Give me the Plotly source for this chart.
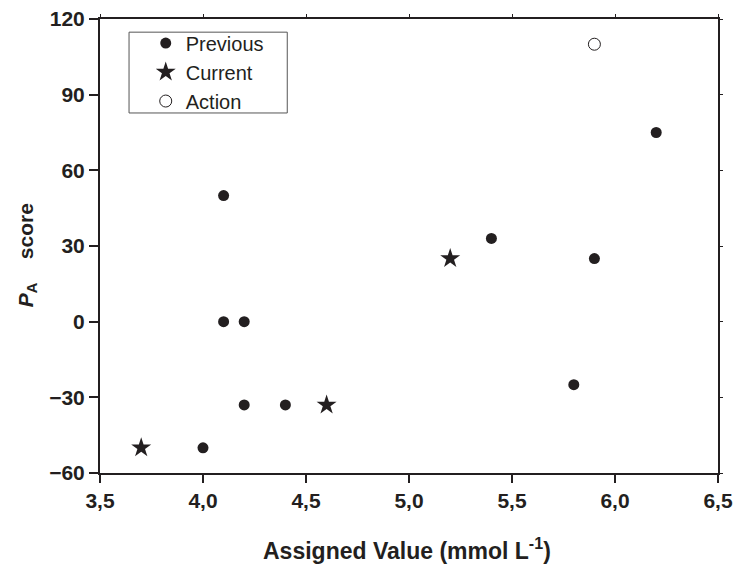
import plotly.graph_objects as go

# ---- data ----
prev_x = [4.0, 4.1, 4.1, 4.2, 4.2, 4.4, 5.4, 5.8, 5.9, 6.2]
prev_y = [-50, 0, 50, 0, -33, -33, 33, -25, 25, 75]
curr_x = [3.7, 4.6, 5.2]
curr_y = [-50, -33, 25]
act_x = [5.9]
act_y = [110]
x_ticks = [3.5, 4.0, 4.5, 5.0, 5.5, 6.0, 6.5]
y_ticks = [-60, -30, 0, 30, 60, 90, 120]

INK = "#231f20"
FONT = "Liberation Sans"

fig = go.Figure()
fig.add_trace(go.Scatter(x=prev_x, y=prev_y, mode="markers", name="Previous",
                         marker=dict(symbol="circle", size=11, color=INK)))
fig.add_trace(go.Scatter(x=curr_x, y=curr_y, mode="markers", name="Current",
                         marker=dict(symbol="star", size=15, color=INK)))
fig.add_trace(go.Scatter(x=act_x, y=act_y, mode="markers", name="Action",
                         marker=dict(symbol="circle-open", size=12, color=INK,
                                     line=dict(width=1, color=INK))))
# invisible trace for mirrored small ticks
fig.add_trace(go.Scatter(x=[None], y=[None], xaxis="x2", yaxis="y2",
                         showlegend=False, hoverinfo="skip"))

axis_common = dict(showgrid=False, zeroline=False, showline=True,
                   linecolor=INK, linewidth=2, ticks="outside",
                   tickcolor=INK, tickwidth=2, automargin=False,
                   tickfont=dict(family=FONT, size=21, color=INK, weight="bold"))

fig.update_layout(
    width=736, height=564,
    margin=dict(l=100, r=18, t=19, b=91, autoexpand=False),
    paper_bgcolor="white", plot_bgcolor="white",
    separators=",.",
    xaxis=dict(range=[3.5, 6.5], tickvals=x_ticks, tickformat=".1f",
               ticklen=8, **axis_common),
    yaxis=dict(range=[-60, 120], tickvals=y_ticks, ticklen=9, **axis_common),
    xaxis2=dict(range=[3.5, 6.5], tickvals=x_ticks, overlaying="x", side="top",
                showgrid=False, zeroline=False, showline=True, linecolor=INK,
                linewidth=2, ticks="outside", ticklen=3, tickwidth=1,
                tickcolor=INK, showticklabels=False, automargin=False),
    yaxis2=dict(range=[-60, 120], tickvals=y_ticks, overlaying="y", side="right",
                showgrid=False, zeroline=False, showline=True, linecolor=INK,
                linewidth=2, ticks="outside", ticklen=3, tickwidth=1,
                tickcolor=INK, showticklabels=False, automargin=False),
    legend=dict(x=0.074, y=0.99, xanchor="left", yanchor="top",
                bgcolor="rgba(0,0,0,0)", borderwidth=0,
                font=dict(family=FONT, size=20, color=INK)),
    showlegend=True,
)

fig.add_shape(type="rect", xref="paper", yref="paper",
              x0=0.047, x1=0.303, y0=0.793, y1=0.971,
              line=dict(color="#555555", width=1))

fig.add_annotation(text="Assigned Value (mmol L<sup>-1</sup>)",
                   xref="paper", yref="paper", x=0.497, y=-0.167,
                   xanchor="center", yanchor="middle", showarrow=False,
                   font=dict(family=FONT, size=23, color=INK, weight="bold"))
fig.add_annotation(text="<i>P</i><sub>A</sub>    score",
                   xref="paper", yref="paper", x=-0.118, y=0.48,
                   xanchor="center", yanchor="middle", textangle=-90,
                   showarrow=False,
                   font=dict(family=FONT, size=21, color=INK, weight="bold"))

fig.write_html("out.html")
